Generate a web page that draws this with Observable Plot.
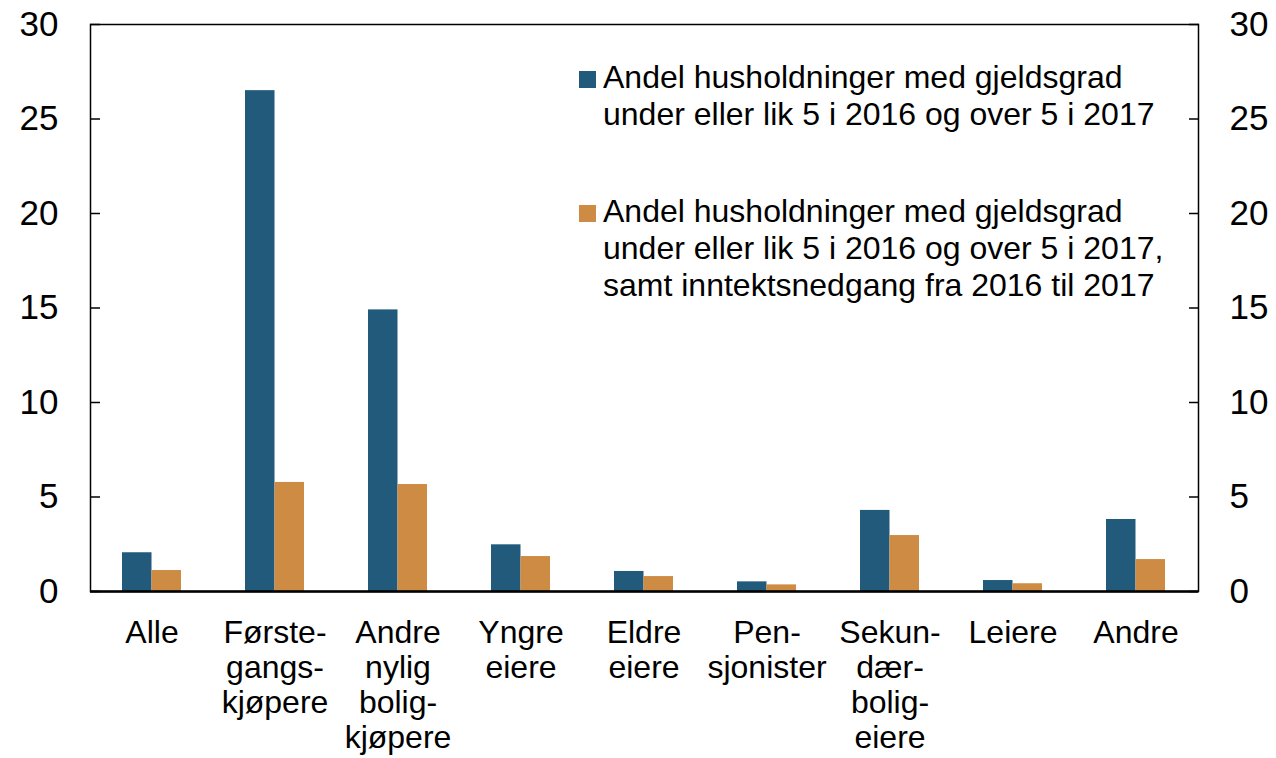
<!DOCTYPE html>
<html>
<head>
<meta charset="utf-8">
<script src="https://cdn.jsdelivr.net/npm/d3@7"></script>
<script src="https://cdn.jsdelivr.net/npm/@observablehq/plot@0.6"></script>
<style>
  html, body { margin: 0; padding: 0; background: #fff; }
  #wrap { position: relative; width: 1276px; height: 758px; font-family: "Liberation Sans", Arial, sans-serif; }
  #legend { position: absolute; left: 579px; top: 59px; font-size: 32px; line-height: 37px; color: #000; }
  .item { position: relative; padding-left: 24px; white-space: nowrap; }
  .item + .item { margin-top: 60px; }
  .sw { position: absolute; left: 0; top: 12px; width: 17px; height: 17px; }
</style>
</head>
<body>
<div id="wrap"></div>
<script>
const categories = [
  "Alle",
  "Første-\ngangs-\nkjøpere",
  "Andre\nnylig\nbolig-\nkjøpere",
  "Yngre\neiere",
  "Eldre\neiere",
  "Pen-\nsjonister",
  "Sekun-\ndær-\nbolig-\neiere",
  "Leiere",
  "Andre"
];
const seriesNames = [
  "Andel husholdninger med gjeldsgrad\nunder eller lik 5 i 2016 og over 5 i 2017",
  "Andel husholdninger med gjeldsgrad\nunder eller lik 5 i 2016 og over 5 i 2017,\nsamt inntektsnedgang fra 2016 til 2017"
];
const series1 = [2.05, 26.5, 14.9, 2.47, 1.06, 0.51, 4.29, 0.58, 3.81];
const series2 = [1.11, 5.77, 5.66, 1.85, 0.79, 0.35, 2.96, 0.41, 1.69];
const colors = ["#225a7b", "#ce8b44"];
const yTicks = [0, 5, 10, 15, 20, 25, 30];

const d1 = categories.map((c, i) => ({category: c, value: series1[i]}));
const d2 = categories.map((c, i) => ({category: c, value: series2[i]}));

const font = "Liberation Sans, Arial, sans-serif";
const chart = Plot.plot({
  width: 1276,
  height: 758,
  marginLeft: 90,
  marginRight: 78,
  marginTop: 24,
  marginBottom: 167,
  style: {fontFamily: font, fontSize: "32px", color: "#000", background: "#fff"},
  x: {domain: categories, paddingInner: 0.52, paddingOuter: 0.26, label: null},
  y: {domain: [0, 30], label: null},
  marks: [
    Plot.barY(d1, {x: "category", y: "value", fill: colors[0], insetLeft: 0, insetRight: 29.5}),
    Plot.barY(d2, {x: "category", y: "value", fill: colors[1], insetLeft: 29.5, insetRight: 0}),
    Plot.axisX({tickSize: 0, tickPadding: 26, fontSize: 32, lineHeight: 1.1, label: null}),
    Plot.axisY({anchor: "left", ticks: yTicks, tickSize: 0, tickPadding: 32, fontSize: 35, label: null}),
    Plot.axisY({anchor: "left", ticks: yTicks, tickSize: 10, dx: 10, tickFormat: () => "", label: null, strokeWidth: 1.5}),
    Plot.axisY({anchor: "right", ticks: yTicks, tickSize: 0, tickPadding: 31, fontSize: 35, label: null}),
    Plot.axisY({anchor: "right", ticks: yTicks, tickSize: 10, dx: -10, tickFormat: () => "", label: null, strokeWidth: 1.5}),
    Plot.frame({stroke: "#000", strokeWidth: 1.5}),
    Plot.ruleY([0], {stroke: "#000", strokeWidth: 2.5})
  ]
});

const wrap = document.getElementById("wrap");
wrap.appendChild(chart);

const legend = document.createElement("div");
legend.id = "legend";
seriesNames.forEach((name, i) => {
  const item = document.createElement("div");
  item.className = "item";
  const sw = document.createElement("span");
  sw.className = "sw";
  sw.style.background = colors[i];
  item.appendChild(sw);
  name.split("\n").forEach(line => {
    const l = document.createElement("div");
    l.textContent = line;
    item.appendChild(l);
  });
  legend.appendChild(item);
});
wrap.appendChild(legend);
</script>
</body>
</html>
